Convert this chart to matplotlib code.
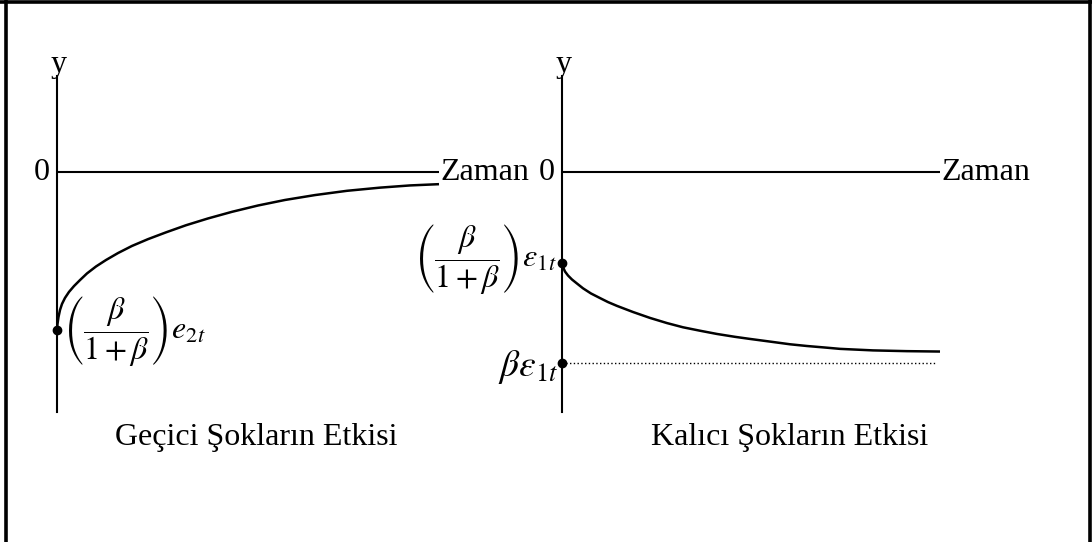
import matplotlib
matplotlib.use("Agg")
import matplotlib.pyplot as plt
from matplotlib.lines import Line2D

plt.rcParams['font.family'] = ['Liberation Serif', 'DejaVu Serif']
plt.rcParams['mathtext.fontset'] = 'stix'

# ---- data (time in arbitrary units 0..10, response relative to shock) ----
# Left panel: transitory shock response (starts at -1, returns toward 0)
left_t = [0.0, 0.013, 0.039, 0.079, 0.131, 0.209, 0.314, 0.445, 0.602, 0.785,
          1.021, 1.283, 1.597, 1.963, 2.382, 2.853, 3.377, 3.953, 4.581, 5.262,
          5.969, 6.754, 7.592, 8.455, 9.241, 10.0]
left_y = [-1.0, -0.962, -0.918, -0.873, -0.835, -0.797, -0.759, -0.722, -0.684, -0.642,
          -0.598, -0.557, -0.513, -0.468, -0.425, -0.382, -0.337, -0.294, -0.252, -0.212,
          -0.177, -0.146, -0.119, -0.099, -0.085, -0.077]
# Right panel: permanent shock response (starts at beta/(1+beta), approaches beta)
right_t = [0.0, 0.026, 0.079, 0.159, 0.265, 0.397, 0.556, 0.767, 1.005, 1.217,
           1.455, 1.878, 2.328, 2.778, 3.201, 3.651, 4.101, 4.577, 4.974, 5.582,
           6.032, 6.481, 6.958, 7.354, 8.228, 9.127, 10.0]
right_y = [-0.476, -0.497, -0.521, -0.542, -0.563, -0.584, -0.609, -0.636, -0.660, -0.681,
           -0.701, -0.733, -0.764, -0.791, -0.813, -0.831, -0.848, -0.863, -0.874, -0.890,
           -0.902, -0.911, -0.919, -0.926, -0.934, -0.938, -0.940]
right_floor = -1.0
dotted_end = 9.92

axis_labels = {"y": "y", "zero": "0", "x": "Zaman"}
titles = ["Geçici Şokların Etkisi", "Kalıcı Şokların Etkisi"]
left_label = r"$\left(\dfrac{\beta}{1+\beta}\right)e_{2t}$"
right_label = r"$\left(\dfrac{\beta}{1+\beta}\right)\varepsilon_{1t}$"
floor_label = r"$\beta\varepsilon_{1t}$"

W, H = 1092, 542
fig = plt.figure(figsize=(W / 100, H / 100), dpi=100)

def px_axes(x0, x1, ytop, ybot):
    return fig.add_axes([x0 / W, 1 - ybot / H, (x1 - x0) / W, (ybot - ytop) / H])

FS = 23
FS_M = 23
LW_AX = 1.5
LW_C = 1.8

axL = px_axes(57, 439, 76, 412)
axR = px_axes(562, 940, 76, 412)
axL.set_xlim(0, 10); axL.set_ylim(-240 / 158, 96 / 158)
axR.set_xlim(0, 10); axR.set_ylim(-240 / 191, 96 / 191)

for ax in (axL, axR):
    ax.set_axis_off()
    ax.axvline(0, color='black', lw=LW_AX, clip_on=False)
    ax.plot([0, 10], [0, 0], color='black', lw=LW_AX, clip_on=False, solid_capstyle='butt')
    ax.annotate(axis_labels["y"], xy=(0, 1.0), xycoords=ax.get_xaxis_transform(),
                xytext=(1, -2), textcoords='offset points', ha='center', va='bottom',
                fontsize=FS, annotation_clip=False)
    ax.annotate(axis_labels["zero"], xy=(0, 0), xytext=(-5, 0), textcoords='offset points',
                ha='right', va='center', fontsize=FS, annotation_clip=False)
    ax.annotate(axis_labels["x"], xy=(10, 0), xytext=(1, 0), textcoords='offset points',
                ha='left', va='center', fontsize=FS, annotation_clip=False)

# left panel
axL.plot(left_t, left_y, color='black', lw=LW_C, clip_on=False, solid_capstyle='butt')
axL.plot([left_t[0]], [left_y[0]], 'o', color='black', ms=6, clip_on=False)
axL.annotate(left_label, xy=(left_t[0], left_y[0]), xytext=(4, -1), textcoords='offset points',
             ha='left', va='center', fontsize=FS_M, annotation_clip=False)

# right panel
axR.plot(right_t, right_y, color='black', lw=LW_C, clip_on=False, solid_capstyle='butt')
axR.plot([0, dotted_end], [right_floor, right_floor], color='black', lw=1.0,
         dashes=(1, 1.7), clip_on=False)
axR.plot([right_t[0], 0], [right_y[0], right_floor], 'o', color='black', ms=6, clip_on=False)
axR.annotate(right_label, xy=(0, right_y[0]), xytext=(-4, 3), textcoords='offset points',
             ha='right', va='center', fontsize=FS_M, annotation_clip=False)
axR.annotate(floor_label, xy=(0, right_floor), xytext=(-3, -3), textcoords='offset points',
             ha='right', va='center', fontsize=27, annotation_clip=False)

fig.text(256 / W, 1 - 445 / H, titles[0], ha='center', va='baseline', fontsize=FS)
fig.text(790 / W, 1 - 445 / H, titles[1], ha='center', va='baseline', fontsize=FS)

# outer frame (top, left, right)
for xs, ys in [([5.5, 5.5], [0, H]), ([0, W], [1.5, 1.5]), ([1089.5, 1089.5], [0, H])]:
    fig.add_artist(Line2D([x / W for x in xs], [1 - y / H for y in ys], color='black',
                          lw=2.6, transform=fig.transFigure))

fig.savefig("out.png", dpi=100)
